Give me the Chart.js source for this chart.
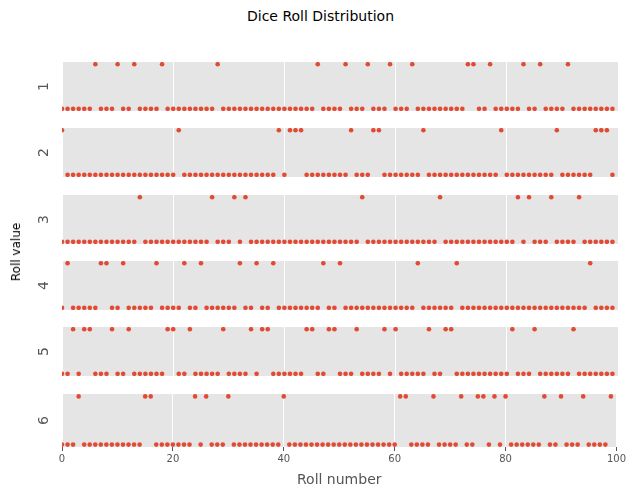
<!DOCTYPE html>
<html><head><meta charset="utf-8">
<script src="https://cdn.jsdelivr.net/npm/chart.js@4"></script>
<style>
body{margin:0;width:641px;height:499px;background:#fff;position:relative;font-family:"DejaVu Sans",sans-serif;overflow:hidden}
.p{position:absolute;left:0}
#t{position:absolute;top:8px;left:0;width:641px;text-align:center;font-size:14px;color:#000}
#yl{position:absolute;z-index:5;left:16px;top:252px;transform:translate(-50%,-50%) rotate(-90deg);font-size:12px;color:#000;white-space:nowrap}
</style></head><body>
<div id="t">Dice Roll Distribution</div>
<div id="yl">Roll value</div>
<script>
const faces=[1,2,3,4,5,6];
const highs={
1:[6,10,13,18,28,46,51,55,59,63,73,74,77,83,86,91],
2:[0,21,39,41,42,43,52,56,57,65,79,89,96,97,98],
3:[14,27,31,33,54,68,82,84,88,93],
4:[1,7,8,11,17,22,25,32,35,38,47,50,64,71,95],
5:[2,4,5,9,12,19,20,23,29,34,36,37,44,45,48,49,53,58,60,66,69,70,81,85,92],
6:[3,15,16,24,26,30,40,61,62,67,72,75,76,78,80,87,90,94,99]};
const rolls=[];
for(const f of faces) for(const i of highs[f]) rolls[i]=f;
const xTicks=[0,20,40,60,80,100];
const tops=[58,124,191,257,323,390];
const H=57;
faces.forEach((f,k)=>{
  const last=k===faces.length-1;
  const d=document.createElement('div');d.className='p';
  d.style.top=tops[k]+'px';d.style.height=(last?H+46:H)+'px';d.style.width=(last?628:622)+'px';
  const c=document.createElement('canvas');d.appendChild(c);document.body.appendChild(d);
  new Chart(c,{type:'scatter',
    data:{datasets:[{data:rolls.map((r,i)=>({x:i,y:r===f?1:0})),backgroundColor:'#E24A33',borderWidth:0,pointRadius:2.3}]},
    options:{responsive:true,maintainAspectRatio:false,animation:false,
      layout:{padding:{right:0,top:0,bottom:0,left:36}},
      plugins:{legend:{display:false},tooltip:{enabled:false}},
      scales:{
        x:{type:'linear',min:0,max:100,display:true,
          afterBuildTicks:a=>{a.ticks=xTicks.map(v=>({value:v}));},
          grid:{color:'#fff',lineWidth:1,drawTicks:last,tickColor:'#555',tickLength:4},border:{display:false},
          ticks:{display:last,color:'#555',font:{size:10,family:'DejaVu Sans'},padding:2,maxRotation:0},
          title:{display:last,text:'Roll number',color:'#555',font:{size:14,family:'DejaVu Sans'},padding:{top:0}},
          afterFit:a=>{a.height=last?46:0;}},
        y:{min:-0.05,max:1.05,
          grid:{display:false},border:{display:false},
          ticks:{display:false},
          title:{display:true,text:String(f),color:'#555',font:{size:14,family:'DejaVu Sans'},padding:0},
          afterFit:a=>{a.width=26;}}
      }},
    plugins:[{id:'bg',beforeDraw(ch){const a=ch.chartArea,x=ch.ctx;x.save();x.fillStyle='#E5E5E5';x.fillRect(a.left,a.top,a.right-a.left,a.bottom-a.top);x.restore();}}]
  });
});
</script></body></html>
